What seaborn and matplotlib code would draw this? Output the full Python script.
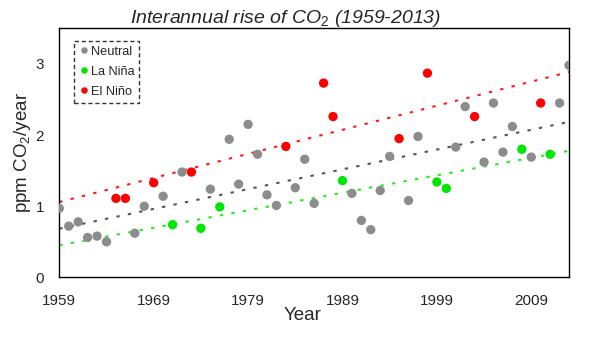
import matplotlib
matplotlib.use("Agg")
import matplotlib.pyplot as plt
import seaborn as sns
import pandas as pd
import numpy as np

years = list(range(1959, 2014))
growth = [0.97, 0.72, 0.78, 0.56, 0.58, 0.50, 1.11, 1.11, 0.62, 1.00,
          1.33, 1.14, 0.74, 1.48, 1.48, 0.69, 1.24, 0.99, 1.94, 1.31,
          2.15, 1.73, 1.16, 1.01, 1.84, 1.26, 1.66, 1.04, 2.73, 2.26,
          1.36, 1.18, 0.80, 0.67, 1.22, 1.70, 1.95, 1.08, 1.98, 2.87,
          1.34, 1.25, 1.83, 2.40, 2.26, 1.62, 2.45, 1.76, 2.12, 1.80,
          1.69, 2.45, 1.73, 2.45, 2.98]
el_nino_years = [1965, 1966, 1969, 1973, 1983, 1987, 1988, 1995, 1998, 2003, 2010]
la_nina_years = [1971, 1974, 1976, 1989, 1999, 2000, 2008, 2011]
categories = ["Neutral", "La Niña", "El Niño"]

phase = ["El Niño" if y in el_nino_years else "La Niña" if y in la_nina_years else "Neutral"
         for y in years]
df = pd.DataFrame({"Year": years, "Growth": growth, "Phase": phase})

sns.set_style("white")
plt.rcParams["font.family"] = ["Liberation Sans", "DejaVu Sans"]
plt.rcParams["mathtext.fontset"] = "custom"
plt.rcParams["mathtext.rm"] = "Liberation Sans"
plt.rcParams["mathtext.it"] = "Liberation Sans:italic"

point_colors = {"Neutral": "#8c8c8c", "La Niña": "#00e600", "El Niño": "#ff0000"}
line_colors = {"Neutral": "#555555", "La Niña": "#22ee22", "El Niño": "#ff1a1a"}

fig = plt.figure(figsize=(5.96, 3.37), dpi=100)
ax = fig.add_axes([0.0995, 0.177, 0.8552, 0.739])
ax.set_xlim(1959, 2013)
ax.set_ylim(0, 3.5)

for cat in categories:
    sub = df[df["Phase"] == cat]
    sns.regplot(data=sub, x="Year", y="Growth", scatter=False, ci=None, truncate=False,
                ax=ax, line_kws=dict(color=line_colors[cat], lw=1.5,
                                     linestyle=(0, (1.6, 4)), zorder=1))

sns.scatterplot(data=df, x="Year", y="Growth", hue="Phase", hue_order=categories,
                palette=point_colors, s=45, edgecolor="none", ax=ax, zorder=3,
                legend=True)

ax.set_xlim(1959, 2013)
ax.set_ylim(0, 3.5)
ax.set_xticks([1959, 1969, 1979, 1989, 1999, 2009])
ax.set_yticks([0, 1, 2, 3])
ax.tick_params(direction="in", length=4, width=1, labelsize=11, color="black")
ax.tick_params(axis="x", pad=12)
ax.tick_params(axis="y", pad=11)
for sp in ax.spines.values():
    sp.set_color("black")
    sp.set_linewidth(1)

ax.set_xlabel("Year", fontsize=13.5)
ax.xaxis.set_label_coords(0.478, -0.12)
ax.set_ylabel("ppm CO$_2$/year", fontsize=13.5)
ax.yaxis.set_label_coords(-0.052, 0.5)
ax.set_title("Interannual rise of CO$_2$ (1959-2013)", fontsize=14, style="italic",
             x=0.443, pad=4)

handles, labels = ax.get_legend_handles_labels()
leg = ax.legend(handles, labels, loc="upper left", bbox_to_anchor=(0.029, 0.95),
                fontsize=9.2, frameon=True, fancybox=False, edgecolor="black",
                handletextpad=0.1, handlelength=0.8, markerscale=0.7,
                borderpad=0.4, labelspacing=0.62, borderaxespad=0)
leg.get_frame().set_linestyle((0, (3, 2)))
leg.get_frame().set_linewidth(1)

fig.savefig("out.png", dpi=100)
